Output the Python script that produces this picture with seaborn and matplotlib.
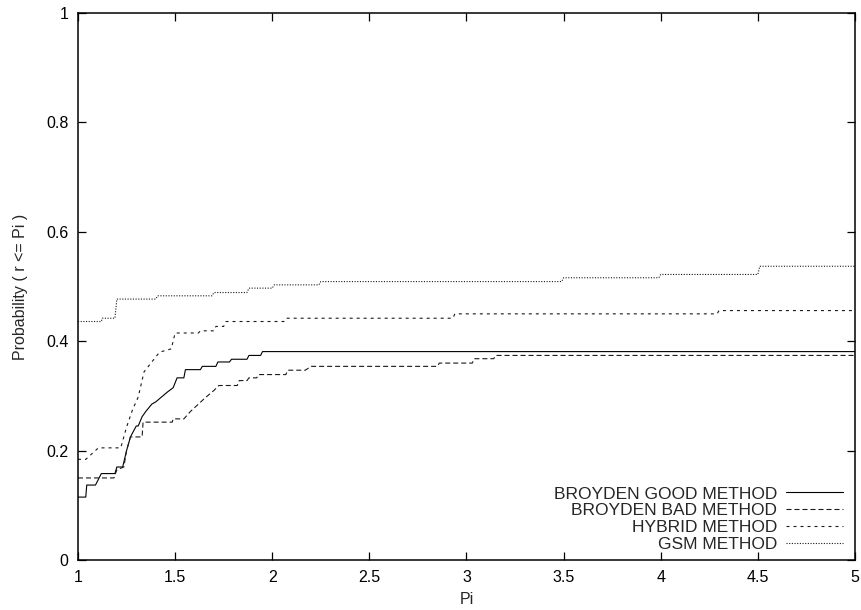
import matplotlib
matplotlib.use("Agg")
import matplotlib.pyplot as plt
import seaborn as sns
import pandas as pd

# ---- data (vertices of the performance-profile curves) ----
good_x = [1.0, 1.04, 1.045, 1.09, 1.12, 1.19, 1.20, 1.23, 1.25, 1.27, 1.30, 1.31,
          1.33, 1.35, 1.38, 1.40, 1.43, 1.46, 1.49, 1.51, 1.545, 1.553, 1.63, 1.64,
          1.71, 1.72, 1.78, 1.79, 1.87, 1.88, 1.94, 1.95, 5.0]
good_y = [0.115, 0.115, 0.137, 0.137, 0.158, 0.158, 0.170, 0.170, 0.200, 0.225, 0.245, 0.245,
          0.262, 0.272, 0.285, 0.289, 0.298, 0.307, 0.315, 0.333, 0.333, 0.348, 0.348, 0.354,
          0.354, 0.362, 0.362, 0.367, 0.367, 0.374, 0.374, 0.381, 0.381]

bad_x = [1.0, 1.185, 1.20, 1.236, 1.25, 1.27, 1.33, 1.335, 1.485, 1.49, 1.545, 1.58,
         1.62, 1.65, 1.70, 1.725, 1.82, 1.83, 1.87, 1.88, 1.92, 1.93, 2.07, 2.08,
         2.17, 2.20, 2.85, 2.86, 3.03, 3.04, 3.14, 3.15, 5.0]
bad_y = [0.150, 0.150, 0.165, 0.170, 0.200, 0.225, 0.225, 0.252, 0.252, 0.258, 0.258, 0.272,
         0.285, 0.295, 0.310, 0.319, 0.319, 0.328, 0.328, 0.333, 0.333, 0.339, 0.339, 0.347,
         0.347, 0.354, 0.354, 0.360, 0.360, 0.368, 0.368, 0.374, 0.374]

hybrid_x = [1.0, 1.04, 1.105, 1.22, 1.25, 1.28, 1.31, 1.34, 1.38, 1.42, 1.48, 1.50,
            1.62, 1.63, 1.70, 1.71, 1.75, 1.76, 2.06, 2.07, 2.93, 2.94, 4.29, 4.30, 5.0]
hybrid_y = [0.184, 0.184, 0.205, 0.205, 0.243, 0.274, 0.298, 0.344, 0.362, 0.380, 0.386, 0.415,
            0.415, 0.419, 0.419, 0.427, 0.427, 0.436, 0.436, 0.442, 0.442, 0.450, 0.450, 0.456, 0.456]

gsm_x = [1.0, 1.12, 1.125, 1.19, 1.20, 1.40, 1.41, 1.69, 1.70, 1.87, 1.88, 2.0, 2.01,
         2.24, 2.25, 3.49, 3.50, 3.99, 4.0, 4.5, 4.51, 5.0]
gsm_y = [0.436, 0.436, 0.442, 0.442, 0.477, 0.477, 0.483, 0.483, 0.489, 0.489, 0.497, 0.497, 0.503,
         0.503, 0.509, 0.509, 0.516, 0.516, 0.522, 0.522, 0.537, 0.537]

methods = ["BROYDEN GOOD METHOD", "BROYDEN BAD METHOD", "HYBRID METHOD", "GSM METHOD"]
series_x = [good_x, bad_x, hybrid_x, gsm_x]
series_y = [good_y, bad_y, hybrid_y, gsm_y]

x_ticks = [1, 1.5, 2, 2.5, 3, 3.5, 4, 4.5, 5]
x_tick_labels = ["1", "1.5", "2", "2.5", "3", "3.5", "4", "4.5", "5"]
y_ticks = [0, 0.2, 0.4, 0.6, 0.8, 1]
y_tick_labels = ["0", "0.2", "0.4", "0.6", "0.8", "1"]

rows = []
for m, xs, ys in zip(methods, series_x, series_y):
    for i, (a, b) in enumerate(zip(xs, ys)):
        rows.append({"method": m, "order": i, "Pi": a, "P": b})
df = pd.DataFrame(rows)

sns.set_style("ticks")
plt.rcParams["font.family"] = ["Liberation Sans", "DejaVu Sans"]
plt.rcParams["font.size"] = 11.5

fig = plt.figure(figsize=(8.62, 6.10), dpi=100)
ax = fig.add_axes([78 / 862, 1 - 560 / 610, (855 - 78) / 862, (560 - 13) / 610])

lw = 0.8
dash_map = {
    "BROYDEN GOOD METHOD": "",
    "BROYDEN BAD METHOD": (4.5, 2.7),
    "HYBRID METHOD": (2.7, 3.6),
    "GSM METHOD": (1.0, 1.4),
}
palette = {"BROYDEN GOOD METHOD": "black", "BROYDEN BAD METHOD": "#1a1a1a",
           "HYBRID METHOD": "#1a1a1a", "GSM METHOD": "#1a1a1a"}

sns.lineplot(data=df, x="Pi", y="P", hue="method", style="method",
             hue_order=methods, style_order=methods, palette=palette,
             dashes=dash_map, sort=False, estimator=None, units=None,
             linewidth=lw, legend=False, ax=ax)

ax.set_xlim(1, 5)
ax.set_ylim(0, 1)
ax.set_xticks(x_ticks)
ax.set_xticklabels(x_tick_labels)
ax.set_yticks(y_ticks)
ax.set_yticklabels(y_tick_labels)
ax.tick_params(direction="in", length=6, width=0.9, top=True, right=True,
               pad=7, colors="black", labelsize=11.5)
for s in ax.spines.values():
    s.set_visible(True)
    s.set_linewidth(1.1)
    s.set_color("black")

ax.set_xlabel("Pi", fontsize=11.5, labelpad=5)
ax.set_ylabel("Probability ( r <= Pi )", fontsize=11.5, labelpad=13)

lines = ax.get_lines()[:4]
leg = ax.legend(lines, methods, loc="lower right", bbox_to_anchor=(0.9935, 0.0016),
                frameon=False, markerfirst=False, handlelength=3.3, handletextpad=0.5,
                labelspacing=0.1, borderaxespad=0.0, fontsize=12.5)

fig.savefig("out.png", dpi=100)
